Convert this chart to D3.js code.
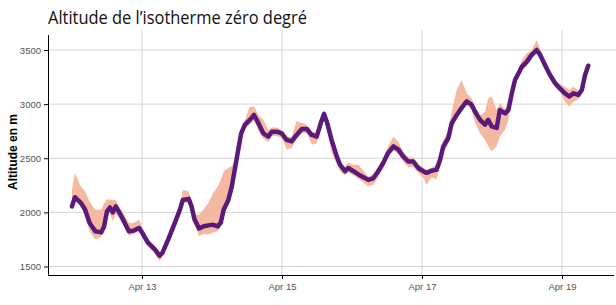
<html>
  <style>
    body { margin: 0; background: #fff; }
    svg { display: block; }
    .grid line { stroke: #d4d4d4; stroke-width: 1px; }
    .axis path, .axis line { stroke: #000; }
    .axis text { font: 9.5px "Liberation Sans", Arial, sans-serif; fill: #555; }
    .band { fill: #f5b9a1; stroke: none; }
    .line { fill: none; stroke: #5a1a7b; stroke-width: 4.5px; stroke-linejoin: round; stroke-linecap: round; }
  </style>
  <script src="https://d3js.org/d3.v7.min.js"></script>
  <body>
    <div id="container"></div>
<script>

// hours since Apr 12 00:00
const hours = [0,1,3,4.5,6,8,10,11,12,13,
  14,15,16,17.5,19.5,21,23,24,26,28.5,
  30,31,33,35.3,37,38,40,41,42,43.6,
  45,46.7,48.4,50,51,52,53.6,54.8,56,57,
  58,59.3,60.8,62.4,63.9,65.6,67.3,68.5,70.2,71.9,
  73.6,75.3,77,78.8,80.5,82.2,83.9,85.3,86.4,87.5,
  89,90.8,91.9,93.6,94.7,96.5,98.2,99.9,101.6,103.3,
  105,106.7,108.4,110.2,111.9,113.6,115.3,117,118.7,120.4,
  121.6,123.3,125,126.2,127.3,129,130.2,131.9,133.6,135.3,
  137,138.2,139.9,141.6,142.7,143.9,145.6,146.7,148.5,149.6,
  150.8,151.9,153.4,154.2,155.9,157.6,159.3,160.5,162.2,163.9,
  165.6,167.3,169,170.5,171.9,173.6,174.8,175.9,177];

const altitude = [2055,2140,2090,2025,1905,1825,1815,1870,2010,2045,
  2000,2055,2010,1935,1825,1830,1855,1815,1720,1655,
  1600,1625,1750,1905,2025,2115,2125,2055,1935,1850,
  1870,1880,1885,1870,1905,2025,2115,2240,2425,2580,
  2730,2810,2850,2900,2825,2730,2700,2745,2745,2730,
  2670,2655,2715,2770,2770,2715,2700,2825,2910,2825,
  2670,2515,2440,2380,2410,2380,2350,2325,2300,2315,
  2380,2455,2550,2610,2580,2515,2470,2470,2410,2380,
  2365,2385,2395,2485,2610,2685,2825,2900,2965,3025,
  2995,2930,2855,2810,2855,2795,2780,2945,2915,2945,
  3100,3225,3300,3345,3390,3455,3500,3455,3360,3270,
  3195,3145,3100,3070,3100,3085,3130,3270,3355];

const upper = [2210,2365,2240,2195,2100,2025,2025,2085,2120,2120,
  2115,2115,2060,2000,1905,1900,1935,1865,1760,1685,
  1630,1655,1790,1945,2065,2210,2195,2115,1975,1980,
  2025,2085,2180,2240,2300,2380,2410,2425,2485,2620,
  2770,2850,2970,2980,2900,2855,2760,2785,2785,2760,
  2700,2695,2845,2825,2810,2745,2740,2875,2940,2855,
  2700,2545,2470,2420,2460,2440,2440,2385,2330,2355,
  2420,2505,2610,2700,2650,2555,2510,2510,2450,2410,
  2395,2415,2435,2545,2670,2755,2930,3130,3225,3100,
  3055,2970,2895,2930,3055,3070,2945,3005,2955,2985,
  3140,3265,3340,3405,3470,3495,3590,3515,3400,3300,
  3225,3185,3160,3130,3160,3125,3160,3300,3395];

const lower = [2025,2110,2050,1985,1825,1750,1775,1830,1970,1995,
  1920,1985,1950,1895,1785,1800,1825,1785,1690,1615,
  1550,1585,1710,1865,1985,2085,2095,2015,1895,1780,
  1800,1795,1815,1825,1865,1985,2065,2190,2365,2530,
  2690,2770,2810,2850,2755,2680,2650,2705,2705,2690,
  2580,2595,2675,2730,2730,2625,2640,2785,2860,2775,
  2550,2445,2380,2340,2370,2340,2310,2275,2240,2255,
  2330,2415,2510,2570,2540,2465,2420,2420,2365,2320,
  2255,2325,2305,2445,2550,2625,2775,2860,2935,2995,
  2945,2825,2730,2670,2610,2565,2610,2700,2765,2855,
  3040,3185,3260,3305,3350,3425,3470,3425,3320,3230,
  3155,3115,3025,2975,3020,3045,3100,3240,3325];

const xTicks = ["2019-04-13", "2019-04-15", "2019-04-17", "2019-04-19"];
const yTicks = [1500, 2000, 2500, 3000, 3500];

const W = 616, H = 305;
const mLeft = 48, mRight = 614, mTop = 35, mBottom = 275;

const start = new Date(2019, 3, 12, 0, 0);
const parse = d3.timeParse("%Y-%m-%d");
const tickDates = xTicks.map(parse);
const data = hours.map((h, i) => ({
  t: new Date(start.getTime() + h * 3600000),
  v: altitude[i], lo: lower[i], hi: upper[i]
}));

// anchor Apr 13 -> 142px, Apr 19 -> 562px, then stretch to the plot edges
const x0 = d3.scaleTime().domain([tickDates[0], tickDates[3]]).range([142, 562]);
const x = d3.scaleTime().domain([x0.invert(mLeft), x0.invert(mRight)]).range([mLeft, mRight]);
const y0 = d3.scaleLinear().domain([1500, 3500]).range([266.5, 50]);
const y = d3.scaleLinear().domain([y0.invert(mBottom), y0.invert(mTop)]).range([mBottom, mTop]);

const svg = d3.select("#container").append("svg")
  .attr("width", W).attr("height", H);

svg.append("text")
  .attr("x", 48).attr("y", 24)
  .attr("font-family", "Open Sans, sans-serif")
  .attr("font-size", 18)
  .attr("textLength", 259).attr("lengthAdjust", "spacingAndGlyphs")
  .attr("fill", "#111")
  .text("Altitude de l\u2019isotherme z\u00e9ro degr\u00e9");

const grid = svg.append("g").attr("class", "grid");
grid.selectAll(".h").data(yTicks).join("line")
  .attr("x1", mLeft).attr("x2", W)
  .attr("y1", d => y(d)).attr("y2", d => y(d));
grid.selectAll(".v").data(tickDates).join("line")
  .attr("x1", d => x(d)).attr("x2", d => x(d))
  .attr("y1", mTop - 5).attr("y2", mBottom);

const area = d3.area()
  .x(d => x(d.t)).y0(d => y(d.lo)).y1(d => y(d.hi));
svg.append("path").attr("class", "band").attr("d", area(data));

const line = d3.line().x(d => x(d.t)).y(d => y(d.v));
svg.append("path").attr("class", "line").attr("d", line(data));

const yaxis = d3.axisLeft(y).tickValues(yTicks).tickFormat(d3.format("d")).tickSize(4).tickPadding(3);
svg.append("g").attr("class", "axis")
  .attr("transform", "translate(" + mLeft + ",0)")
  .call(yaxis)
  .call(g => g.select(".domain").attr("d", "M0.5," + mTop + "V" + mBottom));

const xaxis = d3.axisBottom(x).tickValues(tickDates).tickFormat(d3.timeFormat("%b %d")).tickSize(4).tickPadding(4);
svg.append("g").attr("class", "axis")
  .attr("transform", "translate(0," + mBottom + ")")
  .call(xaxis)
  .call(g => g.select(".domain").attr("d", "M" + mLeft + ",0.5H" + mRight));

svg.append("text")
  .attr("transform", "translate(13,152) rotate(-90)")
  .attr("text-anchor", "middle")
  .attr("dominant-baseline", "central")
  .attr("font-family", "Liberation Sans, Arial, sans-serif")
  .attr("font-weight", "bold")
  .attr("font-size", 12)
  .text("Altitude en m");

</script>
</body>
</html>
